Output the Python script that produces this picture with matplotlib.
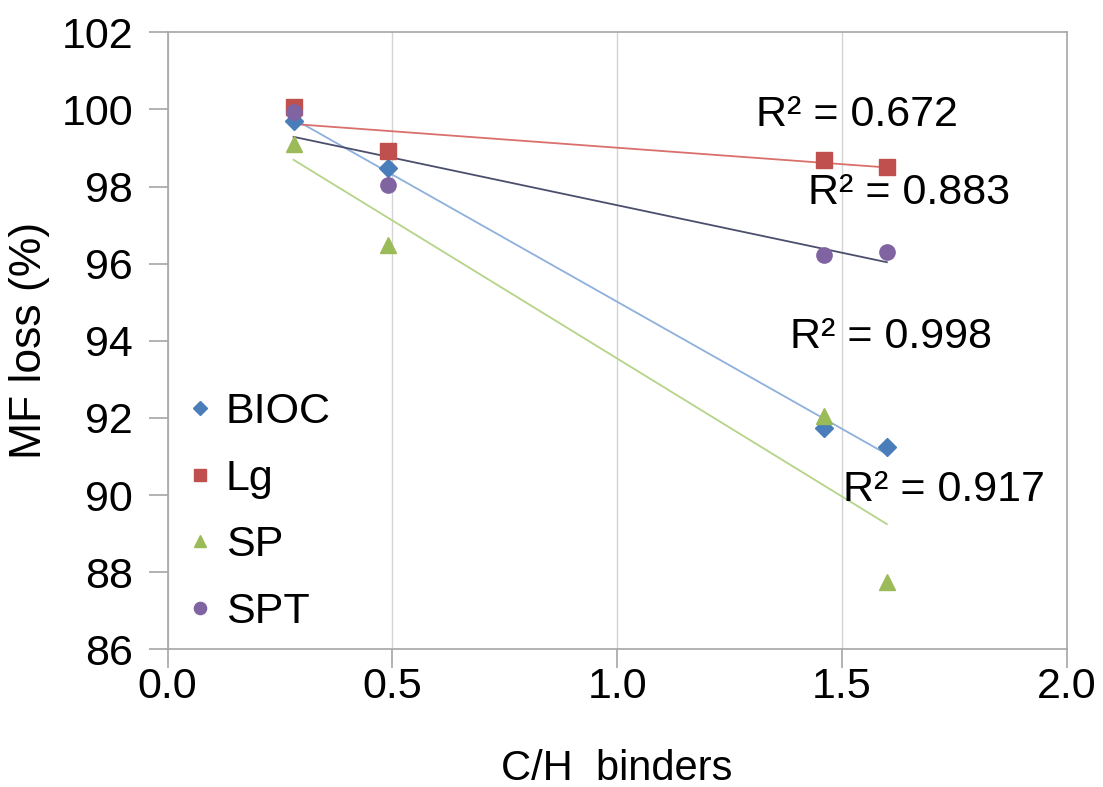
import numpy as np
import matplotlib.pyplot as plt

plt.rcParams['font.family'] = ['Liberation Sans', 'DejaVu Sans']

# C/H ratio of the binders
ch_ratio = [0.28, 0.49, 1.46, 1.60]

# MF loss (%) per binder
bioc = [99.70, 98.47, 91.75, 91.25]
lg = [100.05, 98.92, 98.70, 98.50]
sp = [99.10, 96.48, 92.05, 87.75]
spt = [99.93, 98.03, 96.22, 96.30]

r2_labels = ["R² = 0.672", "R² = 0.883", "R² = 0.998", "R² = 0.917"]
r2_pos = [(1.31, 99.86), (1.425, 97.84), (1.385, 94.1), (1.503, 90.13)]

series = [
    ("BIOC", bioc, "D", "#4a7ebb", "#8eb0dc", 9),
    ("Lg", lg, "s", "#c0504d", "#d9706c", 11),
    ("SP", sp, "^", "#9bbb59", "#b5d488", 11),
    ("SPT", spt, "o", "#8064a2", "#4b4f6e", 11),
]

fig = plt.figure(figsize=(11.03, 7.87), dpi=100)
ax = fig.add_axes([0.152, 0.175, 0.815, 0.784])

x = np.array(ch_ratio)
for name, y, mk, col, lcol, ms in series:
    ax.plot(x, y, linestyle='none', marker=mk, color=col, markersize=ms,
            label=name, zorder=3)
    # linear trendline like Excel
    k, b = np.polyfit(x, y, 1)
    xs = np.array([x.min(), x.max()])
    ax.plot(xs, k * xs + b, color=lcol, linewidth=1.3, zorder=2)

for txt, (tx, ty) in zip(r2_labels, r2_pos):
    ax.text(tx, ty, txt, fontsize=31, va='center', ha='left')

ax.set_xlim(0, 2)
ax.set_ylim(86, 102)
ax.set_xticks(np.arange(0, 2.01, 0.5))
ax.set_xticklabels(["0.0", "0.5", "1.0", "1.5", "2.0"])
ax.set_yticks(np.arange(86, 103, 2))

ax.grid(True, axis='x', color='#d4d4d4', linewidth=1.0)
ax.set_axisbelow(True)
for s in ax.spines.values():
    s.set_color('#a6a6a6')
    s.set_linewidth(1.2)

ax.tick_params(axis='both', labelsize=31, color='#a6a6a6', length=14,
               width=1.2, direction='out')
ax.tick_params(axis='x', pad=-1)
ax.tick_params(axis='y', pad=11)

ax.set_xlabel("C/H  binders", fontsize=30, labelpad=30)
ax.set_ylabel("MF loss (%)", fontsize=32, labelpad=8)

ax.legend(loc='lower left', bbox_to_anchor=(0.005, 0.0), frameon=False,
          fontsize=31, handlelength=0.5, handletextpad=0.35,
          labelspacing=0.62, borderaxespad=0.0, markerscale=0.8)

fig.savefig("out.png", dpi=100)
